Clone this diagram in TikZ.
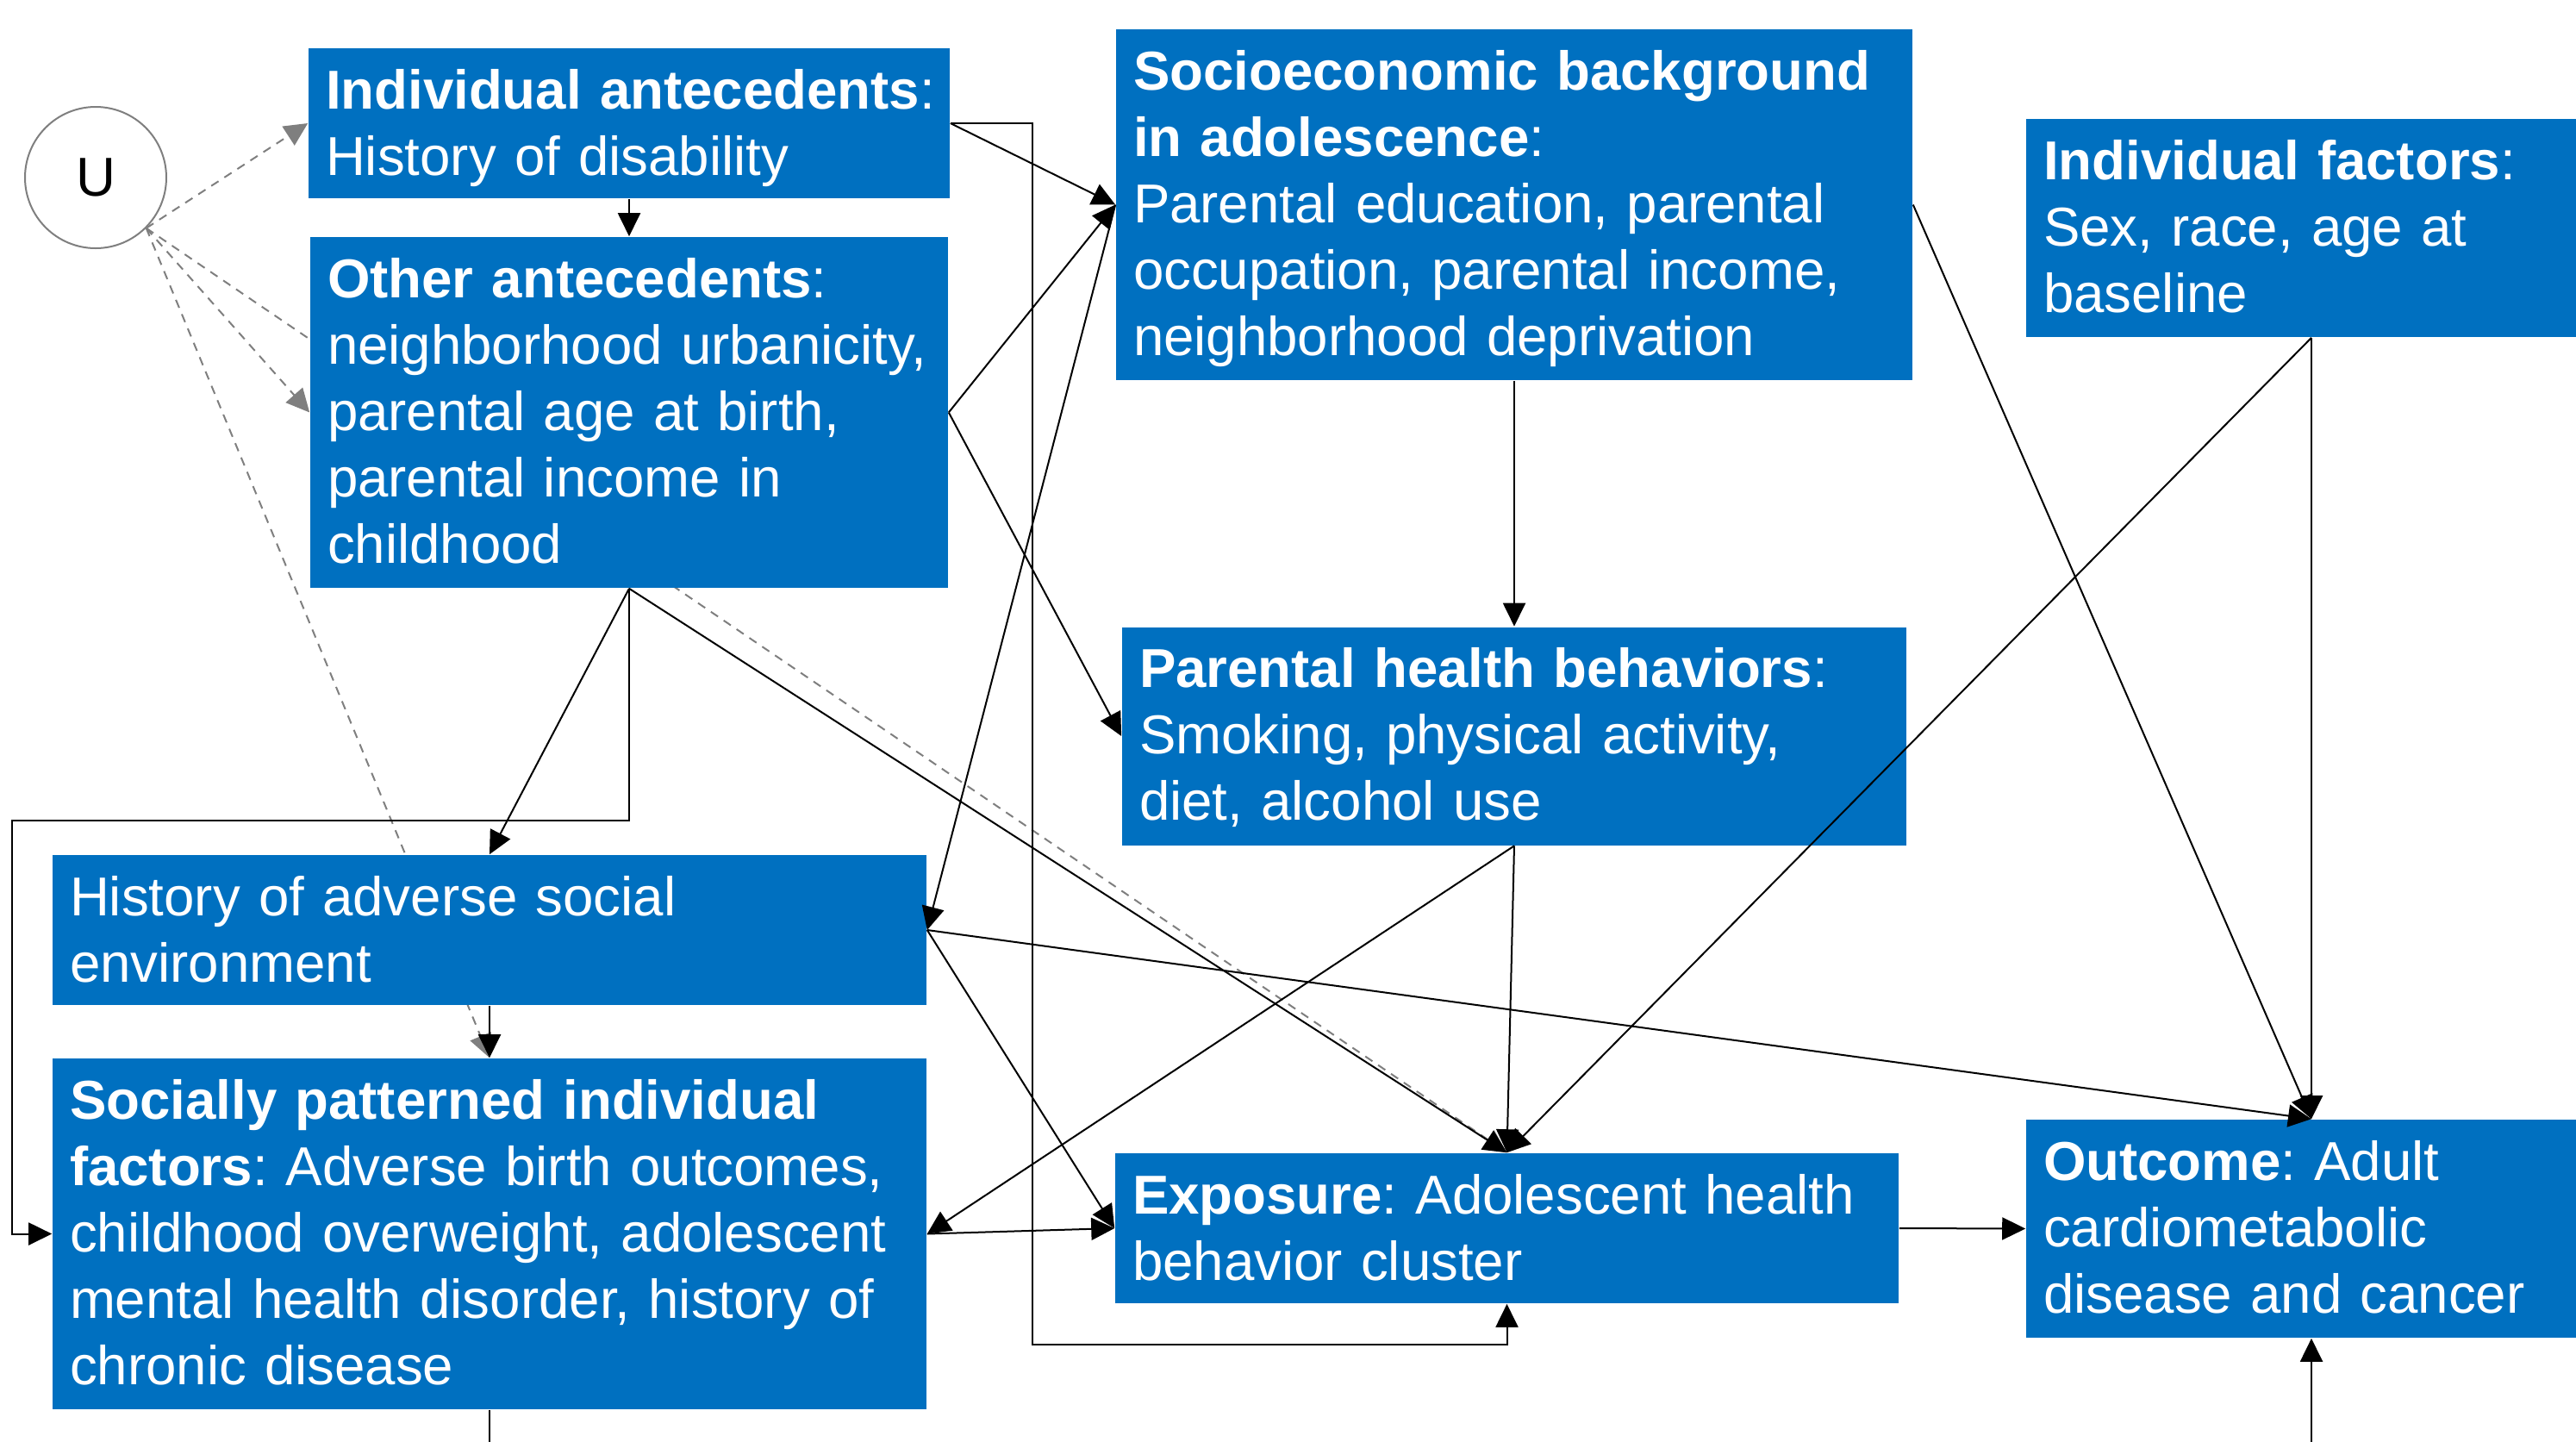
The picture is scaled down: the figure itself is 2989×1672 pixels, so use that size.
\documentclass[tikz,border=0pt]{standalone}
\usepackage{fontspec}
\setmainfont{Liberation Sans}
\usetikzlibrary{arrows.meta,backgrounds}
\definecolor{boxblue}{RGB}{0,112,192}
\definecolor{ugray}{RGB}{127,127,127}
\tikzset{
  blk/.style 2 args={fill=boxblue, text=white, align=left, inner xsep=5pt, inner ysep=0pt,
    minimum width=#1, text width=#2, text height=17.5pt},
  two/.style={minimum height=43.5pt, text depth=26pt},
  three/.style={minimum height=63.25pt, text depth=45.75pt},
  five/.style={minimum height=101.75pt, text depth=84.25pt},
  conn/.style={draw=black, line width=0.5pt, -{Triangle[length=6.75pt,width=6.5pt]}},
  hidden/.style={draw=ugray, line width=0.5pt, dash pattern=on 2.5pt off 2pt, -{Triangle[length=6.75pt,width=6.5pt]}},
}
\frenchspacing

\begin{document}
\begin{tikzpicture}[x=0.25pt,y=0.25pt,yscale=-1,font=\fontsize{15.9pt}{19.25pt}\selectfont]
\useasboundingbox (0,0) rectangle (2989,1672);

%Unmeasured confounder
\node (U) at (111,206) [circle, draw=ugray, line width=0.5pt, minimum size=41pt, inner sep=0pt] {U};

%Boxes, left column
\node (indante) at (730,143) [blk={186pt}{176pt}, two] {\mbox{\textbf{Individual antecedents}:}\\History of disability};
\node (othante) at (730,478.5) [blk={185pt}{175pt}, five] {\textbf{Other antecedents}:\\neighborhood urbanicity,\\parental age at birth,\\parental income in\\childhood};
\node (advsoc) at (568,1079) [blk={253.5pt}{243.5pt}, two] {History of adverse social\\environment};
\node (social) at (568,1431.5) [blk={253.5pt}{243.5pt}, five] {\textbf{Socially patterned individual}\\\textbf{factors}: Adverse birth outcomes,\\childhood overweight, adolescent\\mental health disorder, history of\\chronic disease};

%Boxes, middle column
\node (socio) at (1757,237.5) [blk={231pt}{221pt}, five] {\textbf{Socioeconomic background}\\\textbf{in adolescence}:\\Parental education, parental\\occupation, parental income,\\neighborhood deprivation};
\node (parent) at (1757,854) [blk={227.5pt}{217.5pt}, three] {\textbf{Parental health behaviors}:\\Smoking, physical activity,\\diet, alcohol use};
\node (expo) at (1748.5,1425) [blk={227.25pt}{217.25pt}, two] {\textbf{Exposure}: Adolescent health\\behavior cluster};

%Boxes, right column
\node (indfac) at (2682,264.5) [blk={165.5pt}{155.5pt}, three] {\textbf{Individual factors}:\\Sex, race, age at\\baseline};
\node (outc) at (2682,1425.5) [blk={165.5pt}{155.5pt}, three] {\textbf{Outcome}: Adult\\cardiometabolic\\disease and cancer};

%Free ends and bends
\coordinate (busA) at (1198,1560);
\coordinate (busB) at (14,952);
\coordinate (exitS) at (568,1700);
\coordinate (entryO) at (2682,1700);

%Dashed lines from U, behind the boxes
\begin{scope}[on background layer]
\draw [hidden] (U.south east) -- (indante.west);
\draw [hidden] (U.south east) -- (othante.west);
\draw [hidden] (U.south east) -- (expo.north);
\draw [hidden] (U.south east) -- (social.north);
\end{scope}

%Straight Lines
\draw [conn] (indante.south) -- (othante.north);
\draw [conn] (indante.east) -- (socio.west);
\draw [conn] (indante.east) -| (busA) -| (expo.south);
\draw [conn] (othante.east) -- (socio.west);
\draw [conn] (othante.east) -- (parent.west);
\draw [conn] (othante.south) -- (advsoc.north);
\draw [conn] (othante.south) |- (busB) |- (social.west);
\draw [conn] (othante.south) -- (expo.north);
\draw [conn] (socio.south) -- (parent.north);
\draw [conn] (socio.west) -- (advsoc.east);
\draw [conn] (socio.east) -- (outc.north);
\draw [conn] (indfac.south) -- (outc.north);
\draw [conn] (indfac.south) -- (expo.north);
\draw [conn] (parent.south) -- (expo.north);
\draw [conn] (parent.south) -- (social.east);
\draw [conn] (advsoc.east) -- (outc.north);
\draw [conn] (advsoc.east) -- (expo.west);
\draw [conn] (advsoc.south) -- (social.north);
\draw [conn] (social.east) -- (expo.west);
\draw [conn] (expo.east) -- (outc.west);
\draw [line width=0.5pt] (social.south) -- (exitS);
\draw [conn] (entryO) -- (outc.south);

\end{tikzpicture}
\end{document}
